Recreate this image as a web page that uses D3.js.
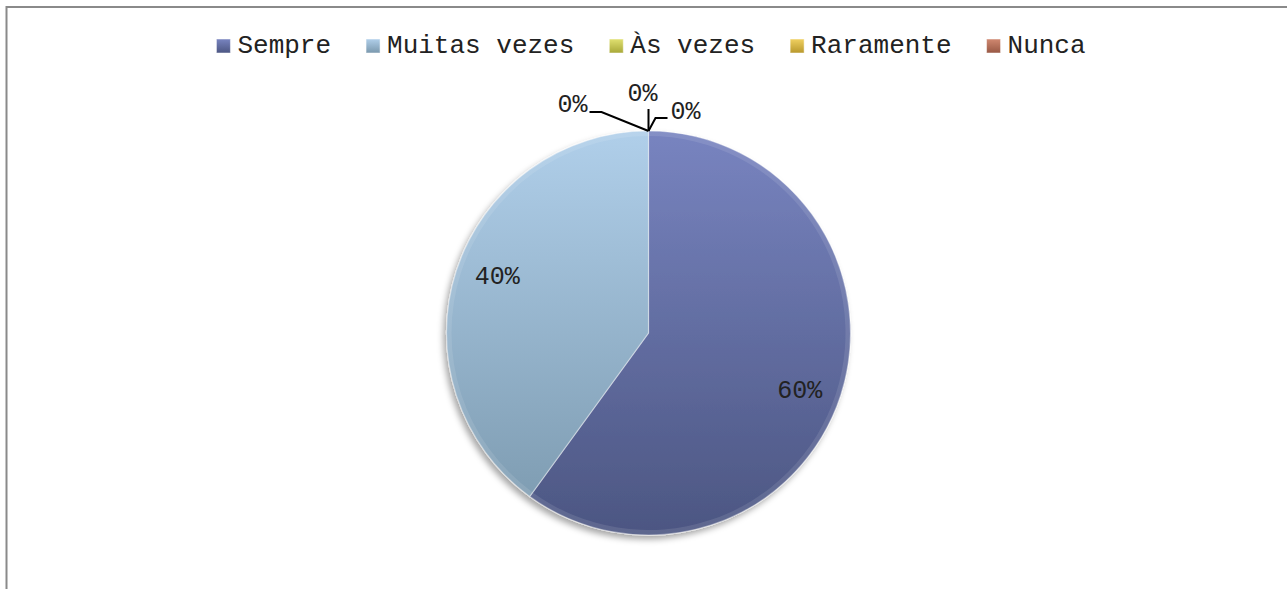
<!DOCTYPE html>
<html>
<head>
<meta charset="utf-8">
<script src="https://cdn.jsdelivr.net/npm/d3@7"></script>
<style>
  html, body { margin: 0; padding: 0; background: #fff; }
  #chart { width: 1287px; height: 589px; }
  text { font-family: "Liberation Mono", "Courier New", monospace; fill: #222; }
</style>
</head>
<body>
<div id="chart"><svg width="1287" height="589"></svg></div>
<script>
// data
const categories = ['Sempre', 'Muitas vezes', 'Às vezes', 'Raramente', 'Nunca'];
const values = [60, 40, 0, 0, 0];
const labels = ['60%', '40%', '0%', '0%', '0%'];

const colors = {
	'Sempre': ['#7884c0', '#4c5682'],
	'Muitas vezes': ['#b0cfea', '#7a98ad'],
	'Às vezes': ['#e0e070', '#a8a838'],
	'Raramente': ['#f0d060', '#b8982c'],
	'Nunca': ['#d08870', '#985844']
};

const width = 1287;
const height = 589;
const svg = d3.select('#chart').select('svg');

/***** frame *****/
svg.append('rect')
	.attr('x', 6.5).attr('y', 7)
	.attr('width', width + 20).attr('height', height + 20)
	.attr('fill', 'none').attr('stroke', '#8a8a8a').attr('stroke-width', 2);

/***** pie geometry *****/
const cx = 648.5;
const cy = 333;
const radius = 202;

/***** defs *****/
const defs = svg.append('defs');
categories.forEach(function(c, i) {
	const g = defs.append('linearGradient')
		.attr('id', 'grad' + i)
		.attr('gradientUnits', 'userSpaceOnUse')
		.attr('x1', 0).attr('y1', -radius).attr('x2', 0).attr('y2', radius);
	g.append('stop').attr('offset', '0%').attr('stop-color', colors[c][0]);
	g.append('stop').attr('offset', '100%').attr('stop-color', colors[c][1]);

	const m = defs.append('linearGradient')
		.attr('id', 'mgrad' + i)
		.attr('x1', 0).attr('y1', 0).attr('x2', 0).attr('y2', 1);
	m.append('stop').attr('offset', '0%').attr('stop-color', colors[c][0]);
	m.append('stop').attr('offset', '100%').attr('stop-color', colors[c][1]);
});

const shadow = defs.append('filter').attr('id', 'shadow')
	.attr('x', '-20%').attr('y', '-20%').attr('width', '140%').attr('height', '140%');
shadow.append('feDropShadow')
	.attr('dx', -3).attr('dy', 4).attr('stdDeviation', 3)
	.attr('flood-color', '#000').attr('flood-opacity', 0.35);

/***** legend *****/
const legendFont = 26;
const legend = svg.append('g').attr('class', 'legend');
const items = legend.selectAll('.item').data(categories).enter().append('g').attr('class', 'item');
items.append('rect')
	.attr('width', 14).attr('height', 14)
	.attr('y', 39)
	.attr('fill', function(d, i) { return 'url(#mgrad' + i + ')'; })
	.attr('stroke', '#fff').attr('stroke-opacity', 0.5).attr('stroke-width', 1);
items.append('text')
	.attr('x', 21)
	.attr('y', 53)
	.style('font-size', legendFont + 'px')
	.text(function(d) { return d; });

let cursor = 0;
const offsets = [];
items.each(function() {
	offsets.push(cursor);
	const tw = d3.select(this).select('text').node().getComputedTextLength();
	cursor += 21 + tw + 35;
});
const legendWidth = cursor - 35;
const legendStart = 651 - legendWidth / 2;
items.attr('transform', function(d, i) { return `translate(${legendStart + offsets[i]}, 0)`; });

/***** pie *****/
const pie = d3.pie().sort(null).value(function(d) { return d; });
const arcs = pie(values);
const arc = d3.arc().innerRadius(0).outerRadius(radius);
const labelArc = d3.arc().innerRadius(radius * 0.8).outerRadius(radius * 0.8);

const plot = svg.append('g').attr('transform', `translate(${cx}, ${cy})`);

const shown = arcs.filter(function(d) { return d.value > 0; });

plot.append('g').attr('filter', 'url(#shadow)')
	.selectAll('path')
	.data(shown)
	.enter()
	.append('path')
	.attr('d', arc)
	.attr('fill', function(d) { return 'url(#grad' + d.index + ')'; })
	.attr('stroke', 'rgba(255,255,255,0.4)')
	.attr('stroke-width', 1.2);

// outer bevel
const bevel = d3.arc().innerRadius(radius - 5).outerRadius(radius);
plot.selectAll('.bevel')
	.data(shown)
	.enter()
	.append('path')
	.attr('class', 'bevel')
	.attr('d', bevel)
	.attr('fill', '#fff')
	.attr('fill-opacity', 0.1);

// big labels
const labelShift = 0.047;
plot.selectAll('.sliceLabel')
	.data(shown)
	.enter()
	.append('text')
	.attr('class', 'sliceLabel')
	.attr('transform', function(d) {
		const c = labelArc.centroid({ startAngle: d.startAngle + labelShift, endAngle: d.endAngle + labelShift });
		return `translate(${c[0]}, ${c[1] + 8})`;
	})
	.attr('text-anchor', 'middle')
	.style('font-size', '25px')
	.text(function(d) { return labels[d.index]; });

// zero slices: leader lines and labels
const zeroLayout = [
	{ elbow: [-47, -19], end: [-59, -19], text: [-61, -27], anchor: 'end' },
	{ elbow: [0, -22], end: [0, -22], text: [-21, -38], anchor: 'start' },
	{ elbow: [7, -13], end: [19, -13], text: [22, -20], anchor: 'start' }
];
const zeros = arcs.filter(function(d) { return d.value === 0; });
zeros.forEach(function(d, i) {
	const a = d.startAngle;
	const px = Math.sin(a) * radius;
	const py = -Math.cos(a) * radius;
	const l = zeroLayout[i];
	plot.append('path')
		.attr('d', `M${px},${py}L${px + l.elbow[0]},${py + l.elbow[1]}L${px + l.end[0]},${py + l.end[1]}`)
		.attr('fill', 'none')
		.attr('stroke', '#000')
		.attr('stroke-width', 2);
	plot.append('text')
		.attr('x', px + l.text[0])
		.attr('y', py + l.text[1] + 8)
		.attr('text-anchor', l.anchor)
		.style('font-size', '25px')
		.text(labels[d.index]);
});
</script>
</body>
</html>
